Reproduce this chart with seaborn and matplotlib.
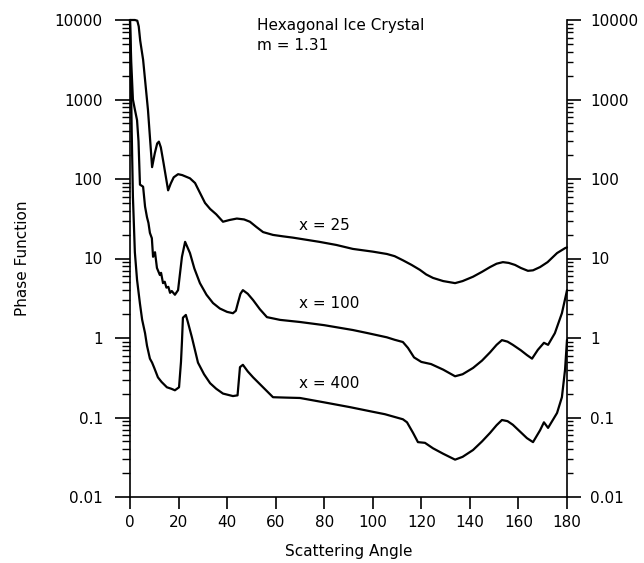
import numpy as np
import pandas as pd
import matplotlib
matplotlib.use("Agg")
import matplotlib.pyplot as plt
import seaborn as sns
from matplotlib.ticker import FixedLocator, FixedFormatter, NullFormatter

# ---------------- data ----------------
angle_x25 = [0, 1, 2, 3, 3.6, 4.2, 5.4, 7.4, 9.1, 10.2, 11.2, 11.9, 12.7, 13.8, 15.7,
             16.8, 18.0, 19.8, 21.5, 24.7, 26.8, 28.5, 30.9, 33, 35.5, 38.3, 41, 44,
             47, 49.4, 52, 54.8, 58.9, 63, 67.1, 78, 85, 91.8, 100, 105.8, 109, 112.4,
             116, 119.4, 122, 124.8, 129, 133.9, 137, 141.3, 145, 148.3, 151, 153.6,
             156, 158.6, 161, 163.9, 166, 168.9, 172, 175.9, 179.2, 180]
value_x25 = [10000, 10000, 10000, 9800, 8300, 5500, 3160, 740, 141, 210, 280, 295, 250,
             160, 72, 88, 105, 115, 112, 102, 89, 70, 50, 42, 36, 29, 30.5, 31.8,
             31, 29, 25, 21.5, 19.8, 19, 18.3, 16.2, 14.8, 13.2, 12.2, 11.4, 10.7, 9.5,
             8.3, 7.2, 6.3, 5.7, 5.2, 4.9, 5.2, 5.9, 6.8, 7.8, 8.6, 9.0,
             8.8, 8.3, 7.6, 7.0, 7.1, 7.8, 9.0, 11.7, 13.5, 13.8]

angle_x100 = [0, 0.5, 1.2, 2.0, 2.9, 3.5, 4.1, 5.4, 6.2, 7.0, 7.6, 8.2, 9.0, 9.5, 10.3,
              11.1, 12.3, 12.8, 13.6, 14.3, 15, 15.8, 16.5, 17.2, 18.5, 19.8, 20.6,
              21.4, 22.7, 24.7, 26.5, 28.8, 31.5, 34.2, 37, 40, 42.4, 43.6, 44.5, 45.5,
              46.5, 48.5, 50.7, 53.5, 56.4, 61.8, 70, 80, 91.8, 98, 105.8, 109, 112.4,
              114.5, 117, 120, 124, 129, 133.9, 137, 141.3, 145, 148.3, 151, 153.2, 155.5,
              157.7, 161, 163.5, 165.6, 168, 170.5, 172.2, 175, 177.9, 179.6, 180]
value_x100 = [10000, 3000, 1000, 750, 550, 300, 85, 80, 45, 33, 28, 21, 18, 10.5, 12,
              7.6, 6.2, 6.6, 4.9, 5.1, 4.3, 4.4, 3.7, 3.9, 3.5, 4.0, 6.5,
              10.5, 16.2, 11.7, 7.5, 4.9, 3.5, 2.75, 2.35, 2.13, 2.05, 2.2, 2.8, 3.6,
              4.0, 3.6, 3.0, 2.3, 1.83, 1.69, 1.59, 1.45, 1.26, 1.15, 1.02, 0.95, 0.89,
              0.75, 0.57, 0.5, 0.47, 0.4, 0.33, 0.35, 0.42, 0.52, 0.66, 0.82, 0.94, 0.9,
              0.82, 0.7, 0.61, 0.55, 0.71, 0.87, 0.82, 1.15, 2.05, 3.5, 4.0]

angle_x400 = [0, 0.3, 0.7, 1.2, 2.0, 2.9, 4.1, 5.0, 6.2, 7.0, 8.2, 9.1, 10.0, 11.5, 13.0,
              15.2, 17.0, 18.5, 20.2, 21.0, 21.4, 21.8, 23.0, 23.8, 25.5, 28, 30.5, 33,
              35.5, 38.3, 42.4, 44.3, 45.3, 46.5, 48.5, 50.7, 54.8, 58.9, 64, 70, 80,
              90.6, 100, 105, 112.4, 114.1, 116.6, 118.6, 121.5, 124.8, 129, 133.9, 137,
              141.3, 145, 148.3, 151, 153.2, 155.5, 157.7, 161, 163.5, 166, 168.9, 170.5,
              172.2, 175.9, 177.9, 179.2, 180]
value_x400 = [10000, 3000, 400, 60, 12, 5.4, 2.7, 1.7, 1.15, 0.8, 0.55, 0.49, 0.42, 0.32,
              0.28, 0.24, 0.23, 0.22, 0.24, 0.5, 0.9, 1.8, 1.95, 1.6, 1.02, 0.49, 0.35,
              0.27, 0.23, 0.20, 0.186, 0.19, 0.43, 0.46, 0.38, 0.32, 0.24, 0.18, 0.178,
              0.176, 0.155, 0.135, 0.118, 0.11, 0.095, 0.087, 0.064, 0.049, 0.048, 0.041,
              0.035, 0.0295, 0.032, 0.039, 0.05, 0.064, 0.08, 0.093, 0.09, 0.081, 0.065,
              0.055, 0.049, 0.069, 0.087, 0.074, 0.114, 0.18, 0.40, 0.95]

series_names = ["x = 25", "x = 100", "x = 400"]
y_ticks = [0.01, 0.1, 1, 10, 100, 1000, 10000]
y_tick_labels = ["0.01", "0.1", "1", "10", "100", "1000", "10000"]
x_ticks = [0, 20, 40, 60, 80, 100, 120, 140, 160, 180]
title_lines = ["Hexagonal Ice Crystal", "m = 1.31"]

df = pd.concat([
    pd.DataFrame({"angle": angle_x25, "value": value_x25, "series": series_names[0]}),
    pd.DataFrame({"angle": angle_x100, "value": value_x100, "series": series_names[1]}),
    pd.DataFrame({"angle": angle_x400, "value": value_x400, "series": series_names[2]}),
], ignore_index=True)

# ---------------- plot ----------------
sns.set_theme(style="ticks")
plt.rcParams["font.family"] = ["DejaVu Sans"]
plt.rcParams["text.color"] = "black"
plt.rcParams["axes.labelcolor"] = "black"
plt.rcParams["xtick.color"] = "black"
plt.rcParams["ytick.color"] = "black"

fig = plt.figure(figsize=(6.44, 5.63), dpi=100)
ax = fig.add_axes([130 / 644, 1 - 497 / 563, (567 - 130) / 644, (497 - 20) / 563])

for name in series_names:
    sub = df[df["series"] == name]
    sns.lineplot(data=sub, x="angle", y="value", ax=ax, color="black", linewidth=1.6,
                 sort=False, estimator=None, legend=False, clip_on=False)

ax.set_yscale("log")
ax.set_xlim(0, 180)
ax.set_ylim(0.01, 10000)

minor = [m * 10.0 ** k for k in range(-2, 4) for m in range(2, 10)]
ax.yaxis.set_major_locator(FixedLocator(y_ticks))
ax.yaxis.set_major_formatter(FixedFormatter(y_tick_labels))
ax.yaxis.set_minor_locator(FixedLocator(minor))
ax.yaxis.set_minor_formatter(NullFormatter())
ax.set_xticks(x_ticks)
ax.set_xticklabels([str(t) for t in x_ticks])

ax.spines["top"].set_visible(False)
ax.spines["right"].set_visible(False)
for s in ["left", "bottom"]:
    ax.spines[s].set_visible(True)
    ax.spines[s].set_linewidth(1.2)
    ax.spines[s].set_color("black")

ax.tick_params(axis="y", which="major", left=True, right=False, labelleft=True,
               labelright=False, direction="out", length=10.5, width=1.2, pad=9.2,
               labelsize=11, colors="black")
ax.tick_params(axis="y", which="minor", left=True, right=False, direction="out",
               length=5.5, width=1.0)
ax.tick_params(axis="x", which="major", bottom=True, direction="out", length=8.5,
               width=1.2, pad=4.5, labelsize=11, colors="black")
ax.tick_params(axis="x", which="minor", bottom=False)

# right-hand duplicate axis with its own labels
sec = ax.secondary_yaxis("right")
sec.yaxis.set_major_locator(FixedLocator(y_ticks))
sec.yaxis.set_major_formatter(FixedFormatter(y_tick_labels))
sec.yaxis.set_minor_locator(FixedLocator(minor))
sec.yaxis.set_minor_formatter(NullFormatter())
sec.spines["right"].set_linewidth(1.2)
sec.spines["right"].set_color("black")
sec.tick_params(axis="y", which="major", direction="out", length=10, width=1.2,
                pad=6.5, labelsize=11, colors="black")
sec.tick_params(axis="y", which="minor", direction="out", length=4.5, width=1.0)

ax.set_xlabel("Scattering Angle", fontsize=11, labelpad=10, color="black")
ax.set_ylabel("Phase Function", fontsize=11, labelpad=18, color="black")

ax.text(0.29, 0.979, title_lines[0], transform=ax.transAxes, fontsize=11,
        ha="left", va="baseline", color="black")
ax.text(0.29, 0.937, title_lines[1], transform=ax.transAxes, fontsize=11,
        ha="left", va="baseline", color="black")

label_pos = [(69.6, 22.8), (69.6, 2.38), (69.6, 0.235)]
for name, (lx, ly) in zip(series_names, label_pos):
    ax.text(lx, ly, name, fontsize=11, ha="left", va="baseline", color="black")

fig.savefig("out.png", dpi=100)
